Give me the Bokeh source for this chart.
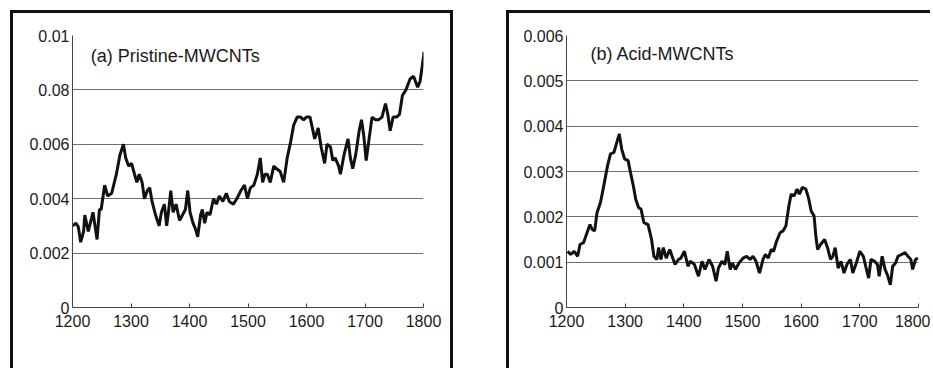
from bokeh.plotting import figure
from bokeh.layouts import row
from bokeh.models import Range1d, FixedTicker, CustomJSTickFormatter, Label
from bokeh.embed import file_html
from bokeh.resources import INLINE

# ---- data ----
wavenumber_a = [1200, 1206, 1210, 1214, 1219, 1221, 1227, 1235, 1242, 1246, 1249, 1255, 1260, 1267,
                1275, 1281, 1287, 1291, 1296, 1301, 1306, 1310, 1314, 1319, 1323, 1328, 1332, 1336,
                1342, 1348, 1352, 1357, 1361, 1364, 1368, 1372, 1377, 1383, 1388, 1393, 1397, 1401,
                1406, 1410, 1414, 1419, 1422, 1426, 1430, 1435, 1441, 1446, 1451, 1457, 1463, 1468,
                1475, 1481, 1488, 1494, 1499, 1504, 1510, 1516, 1521, 1525, 1529, 1533, 1538, 1544,
                1549, 1555, 1561, 1567, 1573, 1578, 1584, 1590, 1595, 1600, 1606, 1610, 1614, 1620,
                1625, 1631, 1635, 1641, 1645, 1649, 1655, 1658, 1664, 1671, 1675, 1679, 1684, 1690,
                1694, 1698, 1702, 1707, 1712, 1718, 1723, 1729, 1735, 1739, 1743, 1748, 1754, 1759,
                1764, 1770, 1777, 1783, 1790, 1794, 1798, 1801]
absorb_a = [0.0030, 0.0031, 0.00296, 0.0024, 0.0028, 0.0034, 0.0028, 0.0035, 0.0025, 0.0036, 0.0036,
            0.0045, 0.0041, 0.0042, 0.0049, 0.0056, 0.0060, 0.0055, 0.0052, 0.0053, 0.0049, 0.0046,
            0.0049, 0.0046, 0.0040, 0.0043, 0.0044, 0.0039, 0.0034, 0.0030, 0.0035, 0.0038, 0.0030,
            0.0035, 0.0043, 0.0035, 0.0038, 0.0032, 0.0034, 0.0036, 0.0043, 0.0035, 0.0031, 0.0029,
            0.0026, 0.0034, 0.0036, 0.0031, 0.0035, 0.0034, 0.0040, 0.0038, 0.0041, 0.0039, 0.0042,
            0.0039, 0.0038, 0.0040, 0.0043, 0.0045, 0.0040, 0.0044, 0.0045, 0.0049, 0.0055, 0.0046,
            0.0049, 0.0049, 0.0046, 0.0052, 0.0051, 0.0050, 0.0046, 0.0055, 0.0061, 0.0067, 0.0070,
            0.0070, 0.0069, 0.0070, 0.0070, 0.0066, 0.0062, 0.0066, 0.0059, 0.0053, 0.0060, 0.0059,
            0.0054, 0.0055, 0.0052, 0.0049, 0.0056, 0.0062, 0.0055, 0.0051, 0.0056, 0.0065, 0.0069,
            0.0063, 0.0054, 0.0062, 0.0070, 0.0069, 0.0069, 0.0070, 0.0075, 0.0071, 0.0065, 0.0070,
            0.0070, 0.0071, 0.0078, 0.0080, 0.0084, 0.0085, 0.0081, 0.0083, 0.0089, 0.0094]

wavenumber_b = [1202, 1207, 1213, 1219, 1223, 1229, 1235, 1240, 1244, 1248, 1252, 1258, 1263, 1270,
                1275, 1281, 1285, 1290, 1294, 1299, 1305, 1309, 1314, 1318, 1323, 1327, 1332, 1339,
                1345, 1349, 1354, 1357, 1361, 1365, 1370, 1376, 1380, 1385, 1391, 1395, 1401, 1407,
                1411, 1418, 1425, 1431, 1436, 1443, 1449, 1455, 1459, 1465, 1470, 1474, 1479, 1483,
                1488, 1494, 1501, 1507, 1513, 1518, 1523, 1529, 1535, 1539, 1544, 1549, 1553, 1558,
                1564, 1569, 1574, 1579, 1583, 1588, 1593, 1597, 1602, 1608, 1613, 1617, 1622, 1625,
                1628, 1633, 1640, 1645, 1650, 1654, 1658, 1663, 1668, 1673, 1678, 1684, 1688, 1694,
                1700, 1706, 1710, 1715, 1719, 1725, 1730, 1733, 1738, 1743, 1747, 1752, 1756, 1761,
                1765, 1771, 1777, 1782, 1787, 1790, 1795, 1799]
absorb_b = [0.00124, 0.00117, 0.00124, 0.00113, 0.00139, 0.00143, 0.00165, 0.00183, 0.00172, 0.00169,
            0.00209, 0.00232, 0.00265, 0.00313, 0.00339, 0.00342, 0.00361, 0.00383, 0.00350, 0.00328,
            0.00324, 0.00298, 0.00268, 0.00239, 0.00220, 0.00217, 0.00187, 0.00183, 0.00150, 0.00113,
            0.00106, 0.00132, 0.00106, 0.00132, 0.00109, 0.00128, 0.00113, 0.00095, 0.00106, 0.00109,
            0.00124, 0.00091, 0.00102, 0.00095, 0.00069, 0.00102, 0.00084, 0.00106, 0.00091, 0.00058,
            0.00087, 0.00102, 0.00095, 0.00124, 0.00084, 0.00098, 0.00084, 0.00098, 0.00109, 0.00113,
            0.00106, 0.00113, 0.00102, 0.00076, 0.00106, 0.00117, 0.00109, 0.00128, 0.00124, 0.00146,
            0.00165, 0.00169, 0.00180, 0.00224, 0.00250, 0.00246, 0.00261, 0.00250, 0.00265, 0.00261,
            0.00239, 0.00213, 0.00202, 0.00158, 0.00128, 0.00139, 0.00150, 0.00132, 0.00106, 0.00113,
            0.00132, 0.00087, 0.00102, 0.00076, 0.00095, 0.00106, 0.00076, 0.00098, 0.00124, 0.00113,
            0.00091, 0.00065, 0.00106, 0.00102, 0.00095, 0.00069, 0.00113, 0.00084, 0.00072, 0.00050,
            0.00091, 0.00098, 0.00113, 0.00117, 0.00121, 0.00113, 0.00106, 0.00084, 0.00106, 0.00109]

x_ticks = [1200, 1300, 1400, 1500, 1600, 1700, 1800]
y_ticks_a = [0, 0.002, 0.004, 0.006, 0.008, 0.01]
y_labels_a = ["0", "0.002", "0.004", "0.006", "0.08", "0.01"]
y_ticks_b = [0, 0.001, 0.002, 0.003, 0.004, 0.005, 0.006]
y_labels_b = ["0", "0.001", "0.002", "0.003", "0.004", "0.005", "0.006"]
title_a = "(a) Pristine-MWCNTs"
title_b = "(b) Acid-MWCNTs"

FONT = "Liberation Sans"
TXT = "#1a1a1a"
BORDER = "3px solid #111111"

fmt_code = """
let best = 0, d = Infinity;
for (let i = 0; i < tvals.length; i++) {
  const dd = Math.abs(tvals[i] - tick);
  if (dd < d) { d = dd; best = i; }
}
return tlabels[best];
"""


def make_panel(xs, ys, yt, yl, ymax, title, lx, ly, width, height, mb):
    p = figure(width=width, height=height, output_backend="svg", toolbar_location=None,
               x_range=Range1d(1200, 1800), y_range=Range1d(0, ymax),
               min_border_left=mb[0], min_border_right=mb[1],
               min_border_top=mb[2], min_border_bottom=mb[3])
    p.outline_line_color = None
    p.background_fill_color = "white"
    p.border_fill_color = "white"
    p.line(xs, ys, line_color="#111111", line_width=3)

    p.xaxis.ticker = FixedTicker(ticks=x_ticks)
    p.yaxis.ticker = FixedTicker(ticks=yt)
    p.yaxis.formatter = CustomJSTickFormatter(args=dict(tvals=yt, tlabels=yl), code=fmt_code)
    p.xgrid.visible = False
    p.ygrid.grid_line_color = "#555555"
    p.ygrid.grid_line_width = 1
    p.ygrid.grid_line_alpha = 0.85

    for ax in (p.xaxis[0], p.yaxis[0]):
        ax.axis_line_color = "#444444"
        ax.axis_line_width = 1
        ax.minor_tick_line_color = None
        ax.major_label_text_font = FONT
        ax.major_label_text_color = TXT
        ax.major_tick_line_color = "#444444"
    p.xaxis.major_tick_in = 4
    p.xaxis.major_tick_out = 0
    p.xaxis.major_label_standoff = 7
    p.xaxis.major_label_text_font_size = "16px"
    p.yaxis.major_tick_in = 0
    p.yaxis.major_tick_out = 0
    p.yaxis.major_label_standoff = 3
    p.yaxis.major_label_text_font_size = "16px"

    p.add_layout(Label(x=lx, y=ly, text=title, text_font=FONT, text_font_size="18px",
                       text_color=TXT, text_baseline="middle", text_align="left"))
    return p


p1 = make_panel(wavenumber_a, absorb_a, y_ticks_a, y_labels_a, 0.01, title_a,
                1231, 0.00926, 437, 355, (59, 33, 22, 63))
p1.margin = (10, 0, 0, 10)
p1.styles = {"box-sizing": "content-box", "border-top": BORDER,
             "border-left": BORDER, "border-right": BORDER}

p2 = make_panel(wavenumber_b, absorb_b, y_ticks_b, y_labels_b, 0.006, title_b,
                1241, 0.0056, 421, 355, (57, 15, 21, 64))
p2.margin = (10, 0, 0, 53)
p2.styles = {"box-sizing": "content-box", "border-top": BORDER, "border-left": BORDER}

layout = row(p1, p2)
open("out.html", "w").write(file_html(layout, INLINE))
